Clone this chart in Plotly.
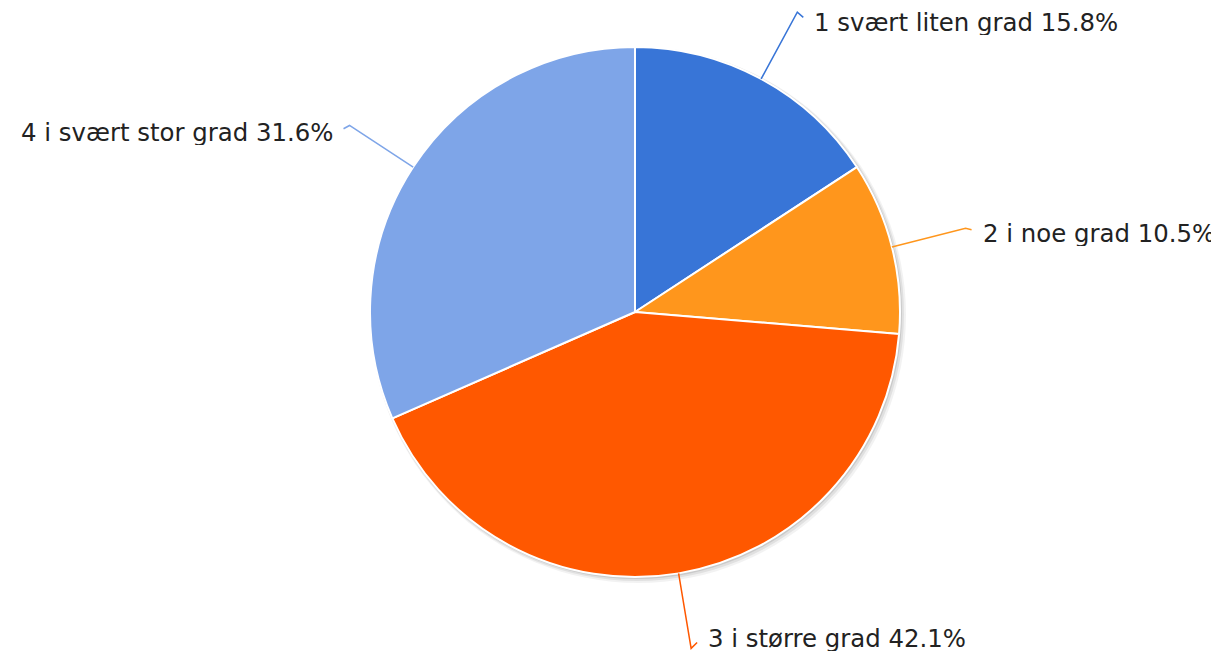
import math
import plotly.graph_objects as go

# ---- data ----
categories = ["1 svært liten grad", "2 i noe grad", "3 i større grad", "4 i svært stor grad"]
counts = [3, 2, 8, 6]
colors = ["#3875d7", "#ff961c", "#ff5800", "#7ea5e8"]

# ---- layout constants (pixels, page has an 8px body margin) ----
W, H = 1219, 656
OFF = 8
CX, CY, R = 635 - OFF, 312 - OFF, 265
LEAD = 76      # radial leader length beyond the rim
HOOK = 6       # small hook length
GAP = 10       # hook -> text gap
TOP_LIMIT, BOTTOM_LIMIT = 14, H - OFF - 18   # keep label text inside the page


def px(x):
    return x / W


def py(y):
    return 1 - y / H


fig = go.Figure()

# soft shadow behind the pie
for i, (grow, off, a) in enumerate([(3, 3, 0.05), (2, 2, 0.07), (1, 1, 0.10)]):
    r = R + grow
    fig.add_trace(go.Pie(
        values=[1], labels=["s%d" % i], sort=False,
        marker=dict(colors=["rgba(0,0,0,%g)" % a], line=dict(width=0)),
        textinfo="none", hoverinfo="skip", showlegend=False,
        domain=dict(x=[px(CX + off - r), px(CX + off + r)],
                    y=[py(CY + off + r), py(CY + off - r)]),
    ))

fig.add_trace(go.Pie(
    values=counts, labels=categories, sort=False, direction="clockwise", rotation=0,
    marker=dict(colors=colors, line=dict(color="white", width=2)),
    textinfo="none", showlegend=False,
    domain=dict(x=[px(CX - R), px(CX + R)], y=[py(CY + R), py(CY - R)]),
))

total = sum(counts)
cum = 0
shapes, annotations = [], []
for cat, v, col in zip(categories, counts, colors):
    mid = (cum + v / 2) / total * 2 * math.pi
    cum += v
    s, c = math.sin(mid), math.cos(mid)
    x0, y0 = CX + R * s, CY - R * c
    x1, y1 = CX + (R + LEAD) * s, CY - (R + LEAD) * c
    side = 1 if s >= 0 else -1
    x2, y2 = x1 + HOOK * side, y1 + HOOK * c
    shapes.append(dict(type="path", xref="paper", yref="paper",
                       path="M %f %f L %f %f L %f %f" % (px(x0), py(y0), px(x1), py(y1), px(x2), py(y2)),
                       line=dict(color=col, width=1.5)))
    pct = 100 * v / total
    ty = min(max(y2 + 3, TOP_LIMIT), BOTTOM_LIMIT)
    annotations.append(dict(
        x=px(x2 + GAP * side), y=py(ty), xref="paper", yref="paper",
        text="%s %.1f%%" % (cat, pct), showarrow=False,
        xanchor="left" if side > 0 else "right", yanchor="middle",
        height=26, valign="middle", borderpad=0,
        font=dict(family="DejaVu Sans", size=24.4, color="#222222"),
    ))

fig.update_layout(
    width=W, height=H,
    margin=dict(l=0, r=0, t=0, b=0),
    paper_bgcolor="white", plot_bgcolor="white",
    shapes=shapes, annotations=annotations,
    showlegend=False,
)

fig.write_html("out.html")
